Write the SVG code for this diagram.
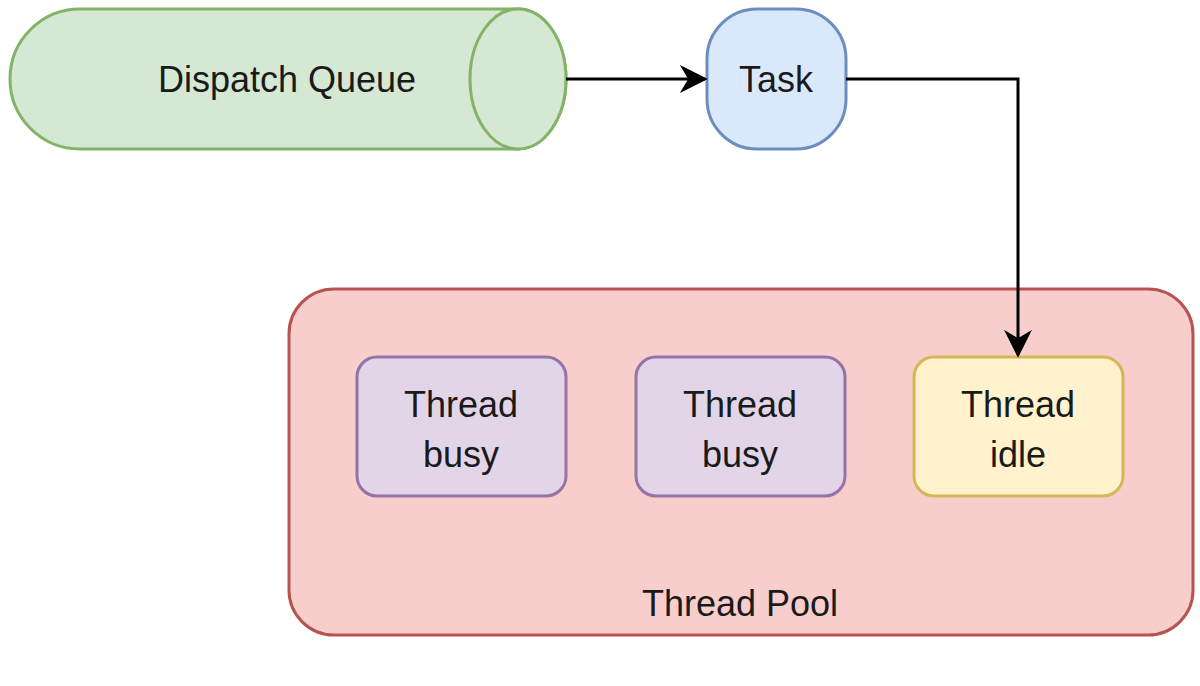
<svg xmlns="http://www.w3.org/2000/svg" width="1200" height="686" viewBox="0 0 1200 686">
<style>
text{font-family:"Liberation Sans",Arial,sans-serif;font-size:36px;fill:#1a1a1a;text-anchor:middle}
.c{fill:none;stroke:#000;stroke-width:3}
.t{fill:#e1d5e7;stroke:#9673a6;stroke-width:3}
</style>
<defs><marker id="a" viewBox="0 0 10 10" refX="9" refY="5" markerWidth="10" markerHeight="10" markerUnits="userSpaceOnUse" orient="auto"><path d="M0,0 L10,5 L0,10 L3,5 z" fill="#000"/></marker>
<marker id="b" viewBox="0 0 10 10" refX="9" refY="5" markerWidth="28" markerHeight="28" markerUnits="userSpaceOnUse" orient="auto"><path d="M0,0 L10,5 L0,10 L3,5 z" fill="#000"/></marker></defs>
<g id="pool"><rect x="289" y="289" width="904" height="346" rx="45" fill="#f8cecc" stroke="#b85450" stroke-width="3"/><text x="740" y="616">Thread Pool</text></g>
<g id="queue"><path d="M80,9 H518 A48,70 0 0 1 518,149 H80 A70,70 0 0 1 80,9 Z" fill="#d5e8d4" stroke="#82b366" stroke-width="3"/><ellipse cx="518" cy="79" rx="48" ry="70" fill="#d5e8d4" stroke="#82b366" stroke-width="3"/><text x="287" y="92">Dispatch Queue</text></g>
<g id="task"><rect x="707" y="9" width="139" height="140" rx="50" fill="#dae8fc" stroke="#6c8ebf" stroke-width="3"/><text x="776" y="92">Task</text></g>
<g id="t1"><rect class="t" x="357" y="357" width="209" height="139" rx="20"/><text x="461" y="417">Thread</text><text x="461" y="467">busy</text></g>
<g id="t2"><rect class="t" x="636" y="357" width="209" height="139" rx="20"/><text x="740" y="417">Thread</text><text x="740" y="467">busy</text></g>
<g id="t3"><rect x="914" y="357" width="209" height="139" rx="20" fill="#fff2cc" stroke="#d6b656" stroke-width="3"/><text x="1018" y="417">Thread</text><text x="1018" y="467">idle</text></g>
<g id="connectors"><path class="c" d="M566,79 H705" marker-end="url(#b)"/><path class="c" d="M846,79 H1018 V355" marker-end="url(#b)"/></g>
</svg>
